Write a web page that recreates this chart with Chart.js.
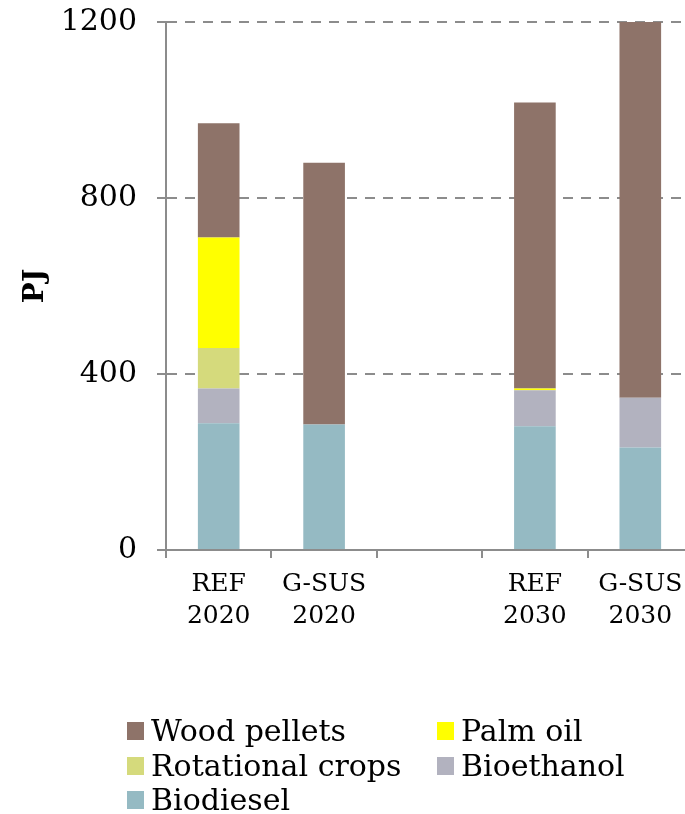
<!DOCTYPE html>
<html>
<head>
<meta charset="utf-8">
<script src="https://cdn.jsdelivr.net/npm/chart.js@4/dist/chart.umd.min.js"></script>
<style>
  html, body { margin: 0; padding: 0; background: #fff; overflow: hidden; width: 685px; height: 814px; }
  #wrap { position: relative; width: 685px; height: 814px; overflow: hidden; }
  canvas { position: absolute; left: 0; top: 0; }
  #legend { position: absolute; left: 127px; top: 714px; display: grid;
    grid-template-columns: 310px auto; grid-auto-rows: 34.5px;
    font-family: "DejaVu Serif", serif; font-size: 30px; color: #000; }
  .item { display: flex; align-items: center; line-height: 34.5px; white-space: nowrap; }
  .box { width: 17px; height: 18px; margin-right: 7px; flex: none; }
</style>
</head>
<body>
<div id="wrap">
  <canvas id="c" width="700" height="814"></canvas>
  <div id="legend"></div>
</div>
<script>
const categories = [["REF", "2020"], ["G-SUS", "2020"], "", ["REF", "2030"], ["G-SUS", "2030"]];
const biodiesel = [288, 285, null, 281, 233];
const bioethanol = [79, 0, null, 82, 113];
const rotationalCrops = [92, 0, null, 0, 0];
const palmOil = [251, 0, null, 4, 0];
const woodPellets = [260, 595, null, 650, 854];
const yTicks = [0, 400, 800, 1200];

const seriesNames = ["Biodiesel", "Bioethanol", "Rotational crops", "Palm oil", "Wood pellets"];
const seriesData = [biodiesel, bioethanol, rotationalCrops, palmOil, woodPellets];
const seriesColors = ["#95BAC3", "#B2B2BF", "#D5DA7C", "#FFFF00", "#8E7369"];
const legendOrder = ["Wood pellets", "Palm oil", "Rotational crops", "Bioethanol", "Biodiesel"];

const FONT = "'DejaVu Serif', serif";
const GRID = "#8c8c8c";

const datasets = seriesNames.map((n, i) => ({
  label: n,
  data: seriesData[i],
  backgroundColor: seriesColors[i],
  borderWidth: 0,
  categoryPercentage: 1,
  barPercentage: 0.395
}));

new Chart(document.getElementById("c"), {
  type: "bar",
  data: { labels: categories, datasets },
  options: {
    responsive: false,
    animation: false,
    layout: { padding: { left: 0, right: 7, top: 22, bottom: 0 } },
    plugins: { legend: { display: false }, tooltip: { enabled: false } },
    scales: {
      x: {
        stacked: true,
        grid: { display: true, drawOnChartArea: false, drawTicks: true, tickLength: 8, offset: true, color: GRID, lineWidth: 2 },
        border: { display: true, color: GRID, width: 2 },
        ticks: { color: "#000", font: { family: FONT, size: 25, lineHeight: 1.3 }, padding: 10, maxRotation: 0, autoSkip: false },
        afterFit: s => { s.height = 264; s.paddingLeft = 0; s.paddingRight = 0; }
      },
      y: {
        stacked: true,
        min: 0, max: 1200,
        afterBuildTicks: s => { s.ticks = yTicks.map(v => ({ value: v })); },
        grid: { color: GRID, lineWidth: 2, tickLength: 9, tickBorderDash: [] },
        border: { display: true, color: GRID, width: 2, dash: [10, 8], dashOffset: 0 },
        ticks: { color: "#000", font: { family: FONT, size: 30 }, padding: 20, callback: v => String(v) },
        title: { display: true, text: "PJ", color: "#000", font: { family: FONT, size: 28, weight: "bold" }, padding: { top: 19, bottom: 0 } },
        afterFit: s => { s.width = 166; s.paddingTop = 0; s.paddingBottom = 0; }
      }
    }
  }
});

const leg = document.getElementById("legend");
legendOrder.forEach(name => {
  const i = seriesNames.indexOf(name);
  const it = document.createElement("div");
  it.className = "item";
  const b = document.createElement("span");
  b.className = "box";
  b.style.background = seriesColors[i];
  const t = document.createElement("span");
  t.textContent = name;
  it.appendChild(b); it.appendChild(t);
  leg.appendChild(it);
});
</script>
</body>
</html>
